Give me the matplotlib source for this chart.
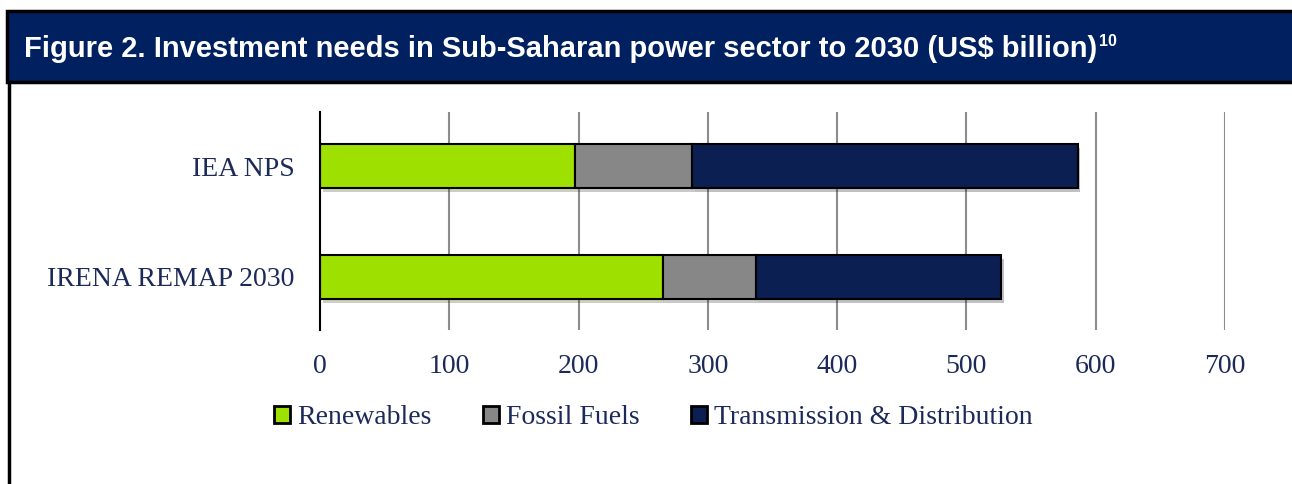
import matplotlib.pyplot as plt
import matplotlib.patheffects as pe
from matplotlib import font_manager as fm
from matplotlib.patches import Rectangle
from matplotlib.lines import Line2D

scenarios = ["IRENA REMAP 2030", "IEA NPS"]
renewables = [265, 197]
fossil = [72, 91]
transmission = [190, 298]
series_names = ["Renewables", "Fossil Fuels", "Transmission & Distribution"]
xticks = [0, 100, 200, 300, 400, 500, 600, 700]

colors = ["#9ee000", "#878787", "#0b1f52"]
txt = "#1c2a5a"
serif = ["Liberation Serif", "DejaVu Serif"]

# pick the regular-width bold Liberation Sans file (not the Narrow one)
bold_file = None
for f in fm.fontManager.ttflist:
    if f.name == "Liberation Sans" and f.weight == 700 and f.style == "normal" \
            and "Narrow" not in f.fname:
        bold_file = f.fname
        break
if bold_file:
    head_font = fm.FontProperties(fname=bold_file, size=21)
    sup_font = fm.FontProperties(fname=bold_file, size=11.5)
else:
    head_font = fm.FontProperties(family="DejaVu Sans", weight="bold", size=19)
    sup_font = fm.FontProperties(family="DejaVu Sans", weight="bold", size=10)

fig = plt.figure(figsize=(12.92, 4.84), dpi=100)

# header band
fig.patches.append(Rectangle((7 / 1292, 1 - 82 / 484), 1, 71 / 484,
                             transform=fig.transFigure, facecolor="#002060",
                             edgecolor="black", linewidth=2.5))
fig.lines.append(Line2D([9 / 1292, 9 / 1292], [0, 1 - 82 / 484],
                        transform=fig.transFigure, color="black", linewidth=2.5))
title = fig.text(24 / 1292, 1 - 49 / 484,
                 "Figure 2. Investment needs in Sub-Saharan power sector to 2030 (US$ billion)",
                 color="white", fontproperties=head_font, va="center", ha="left")
fig.add_artist(plt.Annotation("10", xy=(1, 1), xycoords=title, xytext=(1, 1),
                              textcoords="offset points", va="top", ha="left",
                              color="white", fontproperties=sup_font))

ax = fig.add_axes([320 / 1292, 1 - 330 / 484, 905 / 1292, 218 / 484])

ypos = list(range(len(scenarios)))
left = [0] * len(scenarios)
shadow = [pe.SimplePatchShadow(offset=(2, -3), alpha=0.25), pe.Normal()]
for vals, c, name in zip([renewables, fossil, transmission], colors, series_names):
    bars = ax.barh(ypos, vals, left=left, height=0.396, color=c,
                   edgecolor="black", linewidth=1.5, label=name, zorder=3)
    for b in bars:
        b.set_path_effects(shadow)
    left = [l + v for l, v in zip(left, vals)]

ax.set_xlim(0, 700)
ax.set_ylim(-0.48, 1.49)
ax.set_xticks(xticks)
ax.set_xticklabels([str(t) for t in xticks], family=serif, fontsize=20, color=txt)
ax.set_yticks(ypos)
ax.set_yticklabels(scenarios, family=serif, fontsize=20, color=txt)
ax.tick_params(axis="both", length=0)
ax.tick_params(axis="x", pad=17)
ax.tick_params(axis="y", pad=18.5)
ax.grid(axis="x", color="#8c8c8c", linewidth=1.5, zorder=0)
for s in ["top", "right", "bottom"]:
    ax.spines[s].set_visible(False)
ax.spines["left"].set_color("black")
ax.spines["left"].set_linewidth(1.5)
ax.spines["left"].set_zorder(4)

handles, labels = ax.get_legend_handles_labels()
leg = fig.legend(handles, labels, loc="center", bbox_to_anchor=(653 / 1292, 1 - 418 / 484),
                 ncol=3, frameon=False, handlelength=0.58, handleheight=0.58,
                 handletextpad=0.25, columnspacing=1.85, borderpad=0,
                 prop={"family": serif, "size": 20})
for t in leg.get_texts():
    t.set_color(txt)
for h in leg.legend_handles:
    h.set_path_effects([])
    h.set_linewidth(2)

fig.savefig("out.png", dpi=100)
